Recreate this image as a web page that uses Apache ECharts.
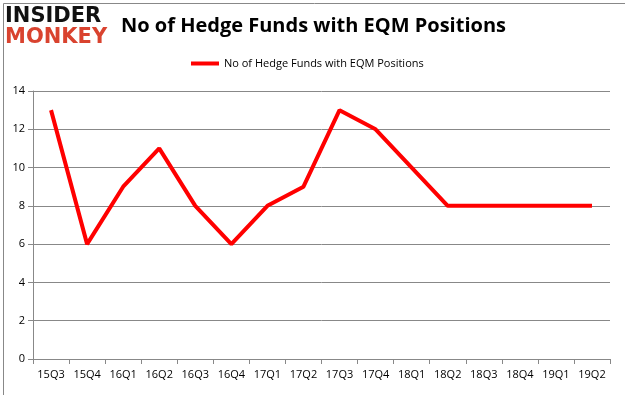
<!DOCTYPE html>
<html><head><meta charset="utf-8">
<script src="https://cdn.jsdelivr.net/npm/echarts@6/dist/echarts.min.js"></script>
<style>html,body{margin:0;padding:0;background:#fff}#c{width:625px;height:395px}</style>
</head><body><div id="c"></div>
<script>
const categories = ['15Q3','15Q4','16Q1','16Q2','16Q3','16Q4','17Q1','17Q2','17Q3','17Q4','18Q1','18Q2','18Q3','18Q4','19Q1','19Q2'];
const values = [13,6,9,11,8,6,8,9,13,12,10,8,8,8,8,8];
const seriesName = 'No of Hedge Funds with EQM Positions';
const titleText = 'No of Hedge Funds with EQM Positions';

const chart = echarts.init(document.getElementById('c'), null, {renderer:'canvas'});
chart.setOption({
  animation:false,
  backgroundColor:'#fff',
  title:{text:titleText, left:116, top:11, textStyle:{fontFamily:'Open Sans', fontWeight:'bold', fontSize:20, color:'#000'}},
  graphic:[
    {type:'rect', left:1, top:1, shape:{width:622, height:392}, style:{fill:'none', stroke:'#888', lineWidth:1}},
    {type:'text', left:5, top:6, style:{text:'INSIDER', font:'900 21px "DejaVu Sans"', fill:'#111'}},
    {type:'text', left:5, top:27, style:{text:'MONKEY', font:'900 21px "DejaVu Sans"', fill:'#d9432f'}}
  ],
  legend:{top:53, left:186, itemWidth:28, itemHeight:4, icon:'rect',
    textStyle:{fontFamily:'Open Sans', fontSize:11, color:'#000'}, data:[seriesName]},
  grid:{left:33, right:15, top:91, bottom:36, containLabel:false},
  xAxis:{type:'category', data:categories, boundaryGap:true,
    axisLine:{lineStyle:{color:'#888'}}, axisTick:{show:true, alignWithLabel:false, lineStyle:{color:'#888'}},
    axisLabel:{fontFamily:'Open Sans', fontSize:11, color:'#000', margin:10, interval:0}},
  yAxis:{type:'value', min:0, max:14, interval:2,
    axisLine:{show:true, lineStyle:{color:'#888'}}, axisTick:{show:true, lineStyle:{color:'#888'}},
    splitLine:{lineStyle:{color:'#888'}},
    axisLabel:{fontFamily:'Open Sans', fontSize:11, color:'#000', margin:8}},
  series:[{name:seriesName, type:'line', data:values, symbol:'none',
    lineStyle:{color:'#ff0000', width:4}, itemStyle:{color:'#ff0000'}}]
});
</script></body></html>
